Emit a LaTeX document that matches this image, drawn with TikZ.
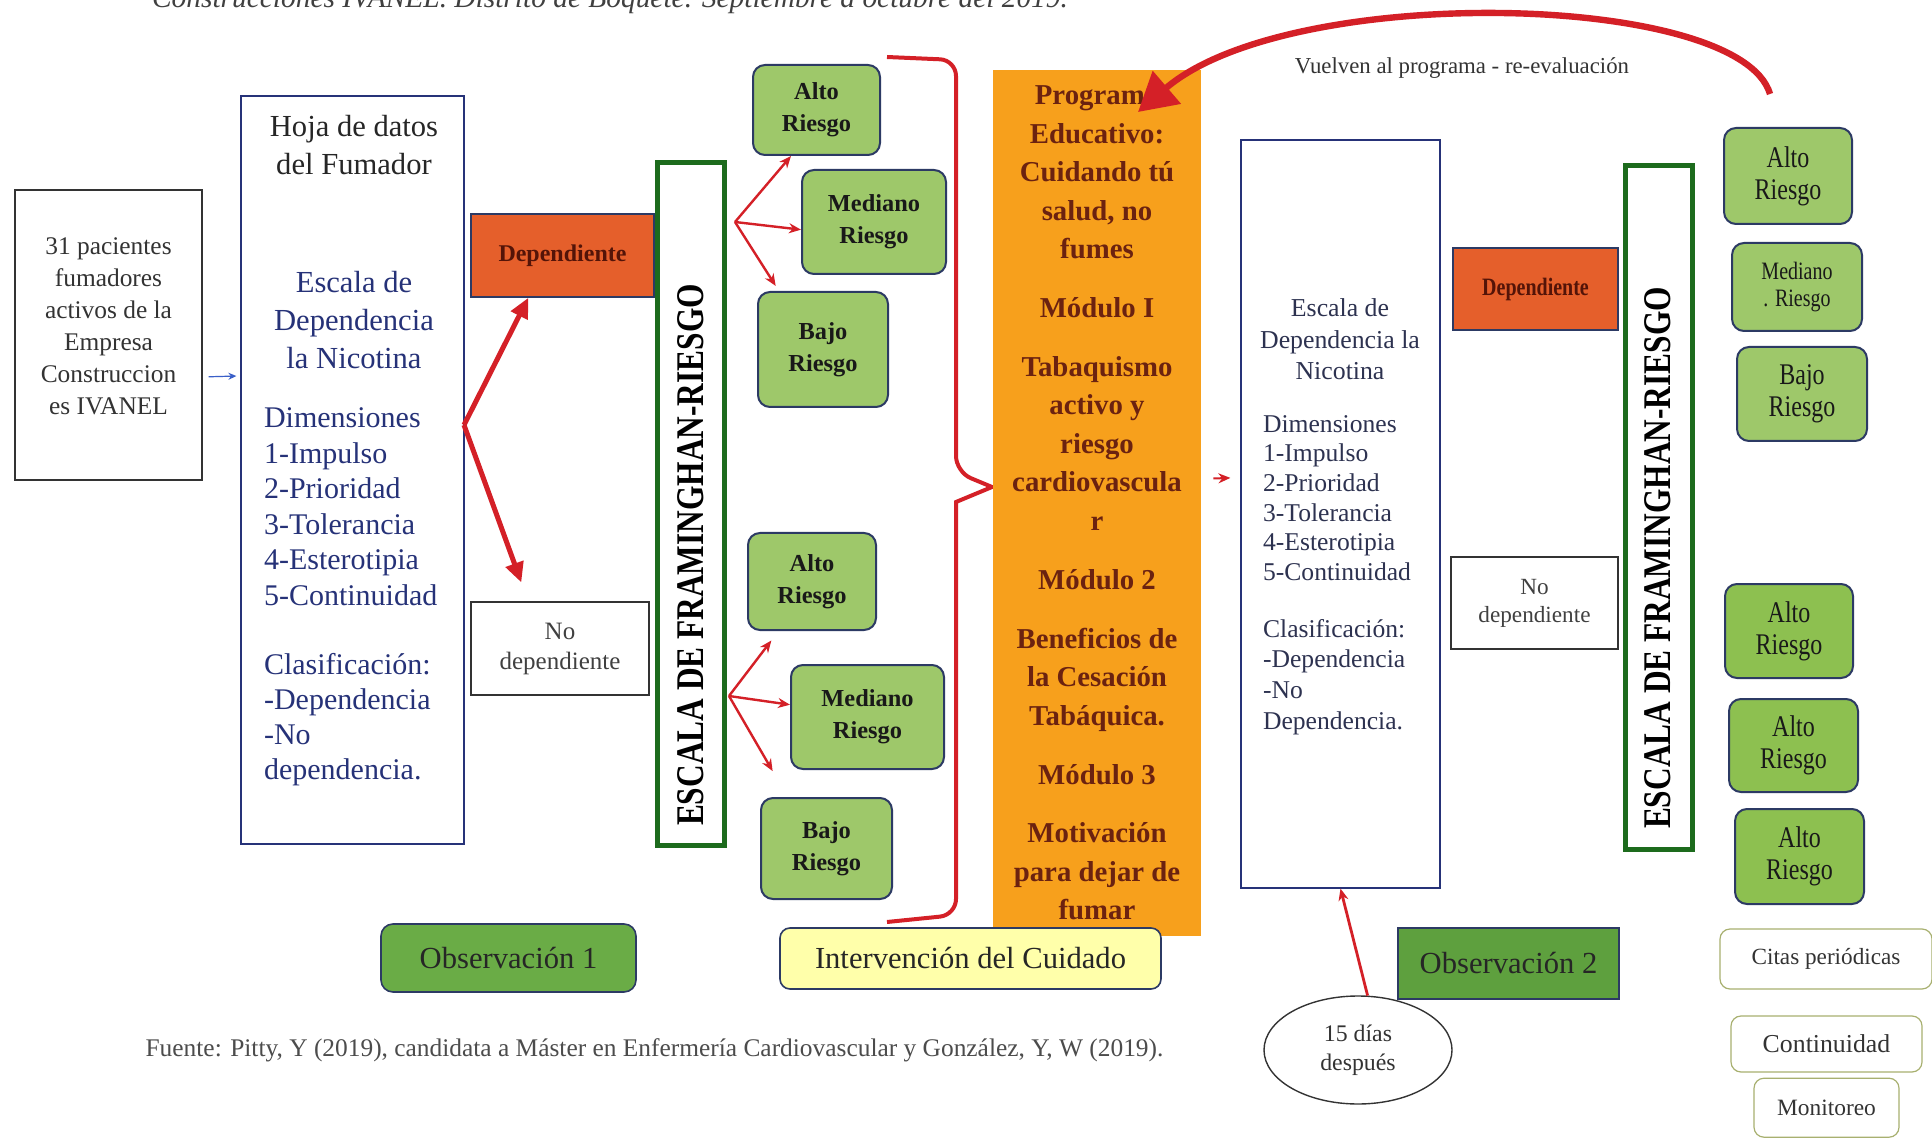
\documentclass[tikz,border=0pt]{standalone}
\usepackage{fontspec}
\setmainfont{Liberation Serif}
\newfontfamily\narrowfont[FakeStretch=0.8]{Liberation Serif}
\usetikzlibrary{positioning, shapes.geometric, arrows.meta, calc}
\definecolor{rojo}{RGB}{212,32,39}
\definecolor{verdeclaro}{RGB}{158,200,106}
\definecolor{verdeder}{RGB}{141,192,80}
\definecolor{verdeosc}{RGB}{29,107,29}
\definecolor{verdeobs}{RGB}{106,172,70}
\definecolor{verdeobsdos}{RGB}{94,160,62}
\definecolor{naranja}{RGB}{247,160,28}
\definecolor{naranjarojo}{RGB}{229,95,43}
\definecolor{amarillo}{RGB}{255,255,170}
\definecolor{marino}{RGB}{38,50,120}
\definecolor{borde}{RGB}{44,58,100}
\definecolor{cafe}{RGB}{107,34,16}
\definecolor{granate}{RGB}{84,20,8}
\definecolor{oliva}{RGB}{168,176,112}
\definecolor{azul}{RGB}{58,95,200}
\definecolor{gristxt}{RGB}{45,50,80}

\begin{document}
\begin{tikzpicture}[x=0.5pt, y=-0.5pt,
    caja/.style={draw=black!80, line width=0.7pt, fill=white, align=center, inner sep=2pt},
    hojabox/.style={draw=marino, line width=0.6pt},
    riesgo/.style={draw=borde, line width=1pt, fill=verdeclaro, rounded corners=6pt, align=center,
      text=black!90, font=\bfseries\fontsize{12.2}{16}\selectfont},
    riesgoder/.style={riesgo, font=\narrowfont\fontsize{15}{16}\selectfont},
    escalabox/.style={draw=verdeosc, line width=2.5pt, fill=white},
    escalatxt/.style={rotate=90, font=\narrowfont\bfseries\fontsize{19.6}{20}\selectfont},
    depbox/.style={draw=borde, line width=0.8pt, fill=naranjarojo, text=granate},
    obsbox/.style={draw=borde, line width=0.8pt, fill=verdeobs, text=black!85,
      font=\fontsize{15.3}{18}\selectfont},
    cita/.style={draw=oliva, line width=0.6pt, rounded corners=5pt, fill=white, text=black!80},
    flecha/.style={rojo, line width=2.5pt, -{Triangle[length=10pt,width=9pt]}},
    flechita/.style={rojo, line width=1.2pt, -{Stealth[length=6pt,width=5pt]}},
    flechaazul/.style={azul, line width=0.6pt, -{Stealth[length=4pt,width=3.5pt]}},
    vuelta/.style={rojo, line width=3.2pt, -{Triangle[length=19pt,width=21pt]}}]

  \fill[white] (0,0) rectangle (1932,1138);
  \useasboundingbox (0,0) rectangle (1932,1138);

  \node[anchor=base west, text=black!75, font=\itshape\fontsize{14.7}{16}\selectfont] (titulo) at (145,8)
    {Construcciones IVANEL. Distrito de Boquete. Septiembre a octubre del 2019.};

  % observacion 1
  \node[caja, minimum width=93.5pt, minimum height=145pt, text=black!80,
    font=\fontsize{12.7}{16}\selectfont] (pac) at (108.5,335)
    {31 pacientes\\fumadores\\activos de la\\Empresa\\Construccion\\es IVANEL\\[-7.4pt]};

  \node[hojabox, minimum width=111.5pt, minimum height=374pt] (hoja_1) at (352.5,470) {};
  \node[align=center, text=black!85, font=\fontsize{15.3}{19}\selectfont] (hoja_1t) at (354,145)
    {Hoja de datos\\del Fumador};
  \node[align=center, text=marino, font=\fontsize{15.3}{19}\selectfont] (hoja_1e) at (354,320)
    {Escala de\\Dependencia\\la Nicotina};
  \node[anchor=west, align=left, text=marino, font=\fontsize{15}{17.75}\selectfont] (hoja_1d) at (257,506.5)
    {Dimensiones\\1-Impulso\\2-Prioridad\\3-Tolerancia\\4-Esterotipia\\5-Continuidad};
  \node[anchor=west, align=left, text=marino, font=\fontsize{15}{17.5}\selectfont] (hoja_1c) at (257,719.5)
    {Clasificación:\\-Dependencia\\-No\\dependencia.};

  \node[depbox, minimum width=91.5pt, minimum height=41.5pt,
    font=\bfseries\fontsize{12}{14}\selectfont] (dep_1) at (562.5,255.5) {Dependiente\\[6pt]};
  \node[caja, minimum width=89pt, minimum height=46.5pt, text=black!75,
    font=\fontsize{12.5}{15}\selectfont] (nodep_1) at (560,648.5) {No\\dependiente};

  \node[escalabox, minimum width=33.5pt, minimum height=341pt] (esc_1) at (690.5,504) {};
  \node[escalatxt] (esctxt_1) at (691,555) {ESCALA DE FRAMINGHAN-RIESGO};

  \node[riesgo, minimum width=63.5pt, minimum height=45pt] (alto_1) at (816.5,110) {Alto\\Riesgo};
  \node[riesgo, minimum width=72pt, minimum height=52pt] (med_1) at (874,222) {Mediano\\Riesgo};
  \node[riesgo, minimum width=65pt, minimum height=57.5pt] (bajo_1) at (823,349.5) {Bajo\\Riesgo};
  \node[riesgo, minimum width=64pt, minimum height=48.5pt] (alto_2) at (812,581.5) {Alto\\Riesgo};
  \node[riesgo, minimum width=76.5pt, minimum height=52pt] (med_2) at (867.5,717) {Mediano\\Riesgo};
  \node[riesgo, minimum width=65.5pt, minimum height=50.5pt] (bajo_2) at (826.5,848.5) {Bajo\\Riesgo};

  \coordinate (fork) at (464,425);
  \path[flecha] (fork) edge (dep_1.231)
                       edge[shorten >=10pt] (nodep_1.124);
  \path[flechaazul] (pac.336) edge[shorten <=3pt, shorten >=2pt] (hoja_1.140);

  \coordinate (fr_1) at (735,222);
  \coordinate (fr_2) at (729,696);
  \path[flechita] (fr_1) edge (alto_1.241)
                         edge (med_1.186)
                         edge[shorten >=3pt] (bajo_1.127)
                  (fr_2) edge[shorten >=6pt] (alto_2.236)
                         edge (med_2.171)
                         edge[shorten >=15pt] (bajo_2.127);

  \node[obsbox, rounded corners=6pt, minimum width=127.5pt, minimum height=34pt] (obs_1) at (508.5,958)
    {Observación 1};

  % intervencion
  \draw[rojo, line width=2pt] (887,57) [rounded corners=8pt] -- (956,60) -- (956,472) [sharp corners]
    -- (992,487) -- (956,502) [rounded corners=8pt] -- (956,915) -- (887,922);

  \node[fill=naranja, minimum width=104pt, minimum height=433pt, align=center, text=cafe,
    font=\bfseries\fontsize{14.4}{19.25}\selectfont] (prog) at (1097,503)
    {Programa\\Educativo:\\Cuidando tú\\salud, no\\fumes\\[10.2pt]Módulo I\\[10.2pt]Tabaquismo\\activo y\\riesgo\\cardiovascula\\r\\[10.2pt]Módulo 2\\[10.2pt]Beneficios de\\la Cesación\\Tabáquica.\\[10.2pt]Módulo 3\\[10.2pt]Motivación\\para dejar de\\fumar};

  \node[draw=borde, line width=0.8pt, fill=amarillo, rounded corners=5pt, minimum width=190.5pt,
    minimum height=30.5pt, text=black!85, font=\fontsize{15.3}{18}\selectfont] (interv) at (970.5,958.5)
    {Intervención del Cuidado};

  \node[text=black!70, font=\fontsize{12.7}{15}\selectfont] (fuente) at (654.5,1050)
    {Fuente: Pitty, Y (2019), candidata a Máster en Enfermería Cardiovascular y González, Y, W (2019).};

  % observacion 2
  \node[hojabox, minimum width=99.5pt, minimum height=374pt] (hoja_2) at (1340.5,514) {};
  \node[align=center, text=gristxt, font=\fontsize{12.9}{15.7}\selectfont] (hoja_2e) at (1340,339.5)
    {Escala de\\Dependencia la\\Nicotina};
  \node[anchor=west, align=left, text=gristxt, font=\fontsize{12.8}{14.8}\selectfont] (hoja_2d) at (1256,498)
    {Dimensiones\\1-Impulso\\2-Prioridad\\3-Tolerancia\\4-Esterotipia\\5-Continuidad};
  \node[anchor=west, align=left, text=gristxt, font=\fontsize{12.8}{15.3}\selectfont] (hoja_2c) at (1256,677)
    {Clasificación:\\-Dependencia\\-No\\Dependencia.};

  \path[flechita, line width=1pt] (prog.13) edge[shorten <=6pt, shorten >=5pt] (hoja_2.160);

  \node[depbox, minimum width=82.5pt, minimum height=41pt,
    font=\narrowfont\bfseries\fontsize{12.5}{14}\selectfont] (dep_2) at (1535.5,289) {Dependiente\\[5pt]};
  \node[caja, minimum width=83.5pt, minimum height=46pt, text=black!75,
    font=\fontsize{11.6}{14}\selectfont] (nodep_2) at (1534.5,603) {No\\dependiente};

  \node[escalabox, minimum width=33.5pt, minimum height=341.5pt] (esc_2) at (1658.5,507.5) {};
  \node[escalatxt] (esctxt_2) at (1658,558) {ESCALA DE FRAMINGHAN-RIESGO};

  \node[riesgoder, minimum width=64pt, minimum height=48pt] (ralto_1) at (1788,176) {Alto\\Riesgo};
  \node[riesgoder, minimum width=65pt, minimum height=44pt,
    font=\narrowfont\fontsize{12.5}{13.5}\selectfont] (rmed) at (1797,287) {Mediano\\. Riesgo};
  \node[riesgoder, minimum width=65pt, minimum height=47pt] (rbajo) at (1802,394) {Bajo\\Riesgo};
  \node[riesgoder, fill=verdeder, minimum width=64pt, minimum height=47pt] (ralto_2) at (1789,631) {Alto\\Riesgo};
  \node[riesgoder, fill=verdeder, minimum width=64.5pt, minimum height=46.5pt] (ralto_3) at (1793.5,745.5) {Alto\\Riesgo};
  \node[riesgoder, fill=verdeder, minimum width=64.5pt, minimum height=47.5pt] (ralto_4) at (1799.5,856.5) {Alto\\Riesgo};

  \node[obsbox, fill=verdeobsdos, minimum width=110.5pt, minimum height=35.5pt] (obs_2) at (1508.5,963.5)
    {Observación 2\\[3pt]};
  \node[draw=black!80, line width=0.7pt, fill=white, ellipse, minimum width=94pt, minimum height=54pt,
    align=center, text=black!80, font=\fontsize{11.9}{14.5}\selectfont] (dias) at (1358,1050)
    {15 días\\después};
  \path[flechita, line width=1.4pt] (dias.80) edge (hoja_2.south);

  \node[cita, minimum width=106pt, minimum height=30pt, font=\fontsize{11.6}{14}\selectfont] (citas) at (1826,959)
    {Citas periódicas};
  \node[cita, minimum width=95.5pt, minimum height=28pt, font=\fontsize{12.9}{15}\selectfont] (contin) at (1826.5,1044)
    {Continuidad};
  \node[cita, minimum width=72.5pt, minimum height=29.5pt, font=\fontsize{11.7}{14}\selectfont,
    below=2.5pt of contin] (monit) {Monitoreo};

  % vuelta al programa
  \coordinate (ret) at (1770,94);
  \coordinate (ret_in) at (1138,112);
  \draw[vuelta] (ret) .. controls (1740,-8) and (1290,-18) .. (ret_in);
  \node[text=black!80, font=\fontsize{11.4}{13}\selectfont] (vuelven) at (1462,68)
    {Vuelven al programa - re-evaluación};
\end{tikzpicture}
\end{document}
